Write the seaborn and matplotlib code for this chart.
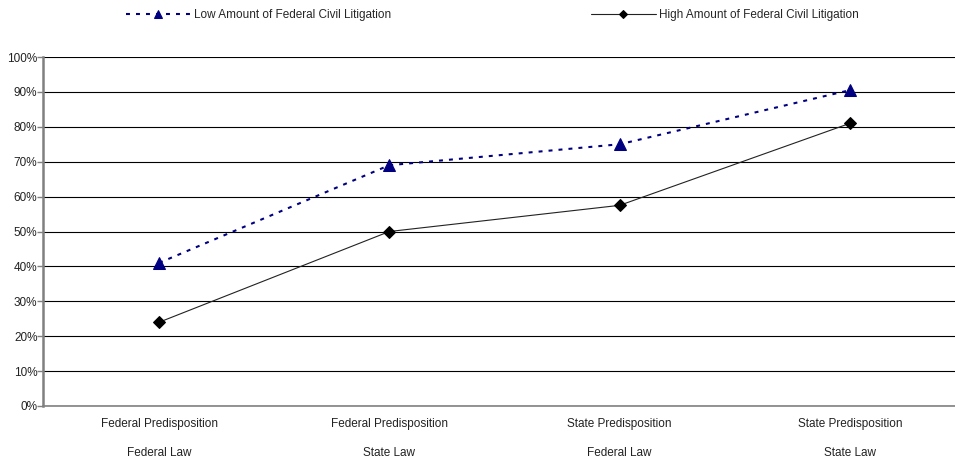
import numpy as np
import matplotlib
matplotlib.use("Agg")
import matplotlib.pyplot as plt
import seaborn as sns

categories = ["Federal Predisposition\n\nFederal Law",
              "Federal Predisposition\n\nState Law",
              "State Predisposition\n\nFederal Law",
              "State Predisposition\n\nState Law"]
low_litigation = [41, 69, 75, 90.5]
high_litigation = [24, 50, 57.5, 81]
low_label = "Low Amount of Federal Civil Litigation"
high_label = "High Amount of Federal Civil Litigation"

sns.set_style("white")
plt.rcParams['font.family'] = ['Liberation Sans', 'DejaVu Sans']

fig = plt.figure(figsize=(9.55, 4.62), dpi=100)
ax = fig.add_axes([43/955, 56/462, 912/955, 349/462])

xs = np.arange(len(categories))
sns.lineplot(x=xs, y=low_litigation, ax=ax, color="#000080", linestyle=(0, (1.9, 2.9)),
             linewidth=1.5, marker="^", markersize=8.5, markeredgecolor="#000080",
             label=low_label, legend=False)
sns.lineplot(x=xs, y=high_litigation, ax=ax, color="#222222", linewidth=0.8,
             marker="D", markersize=6.5, markeredgecolor="black", markerfacecolor="black",
             label=high_label, legend=False)

ax.set_xlim(-0.504, 3.456)
ax.set_ylim(0, 100)
ax.set_yticks(range(0, 101, 10))
ax.set_yticklabels([f"{v}%" for v in range(0, 101, 10)], fontsize=8.5, color="#222222")
ax.set_xticks(xs)
ax.set_xticklabels(categories, fontsize=8.5, color="#222222", linespacing=1.25)
ax.tick_params(axis="x", length=0, pad=9)
ax.tick_params(axis="y", length=4, width=1, color="#808080", left=True, pad=0)
ax.yaxis.grid(True, color="black", linewidth=0.8)
ax.set_axisbelow(True)
for s in ["top", "right"]:
    ax.spines[s].set_visible(False)
ax.spines["left"].set_color("#808080")
ax.spines["left"].set_linewidth(1.8)
ax.spines["bottom"].set_color("#808080")
ax.spines["bottom"].set_linewidth(1.2)

h, l = ax.get_legend_handles_labels()
fig.legend([h[0]], [l[0]], loc="center left", bbox_to_anchor=(120/955, 1 - 15/462),
           frameon=False, fontsize=8.5, handlelength=5.5, handletextpad=0.3, borderpad=0,
           markerscale=0.6)
fig.legend([h[1]], [l[1]], loc="center left", bbox_to_anchor=(585/955, 1 - 15/462),
           frameon=False, fontsize=8.5, handlelength=5.5, handletextpad=0.3, borderpad=0,
           markerscale=0.65)

fig.savefig("out.png", dpi=100)
